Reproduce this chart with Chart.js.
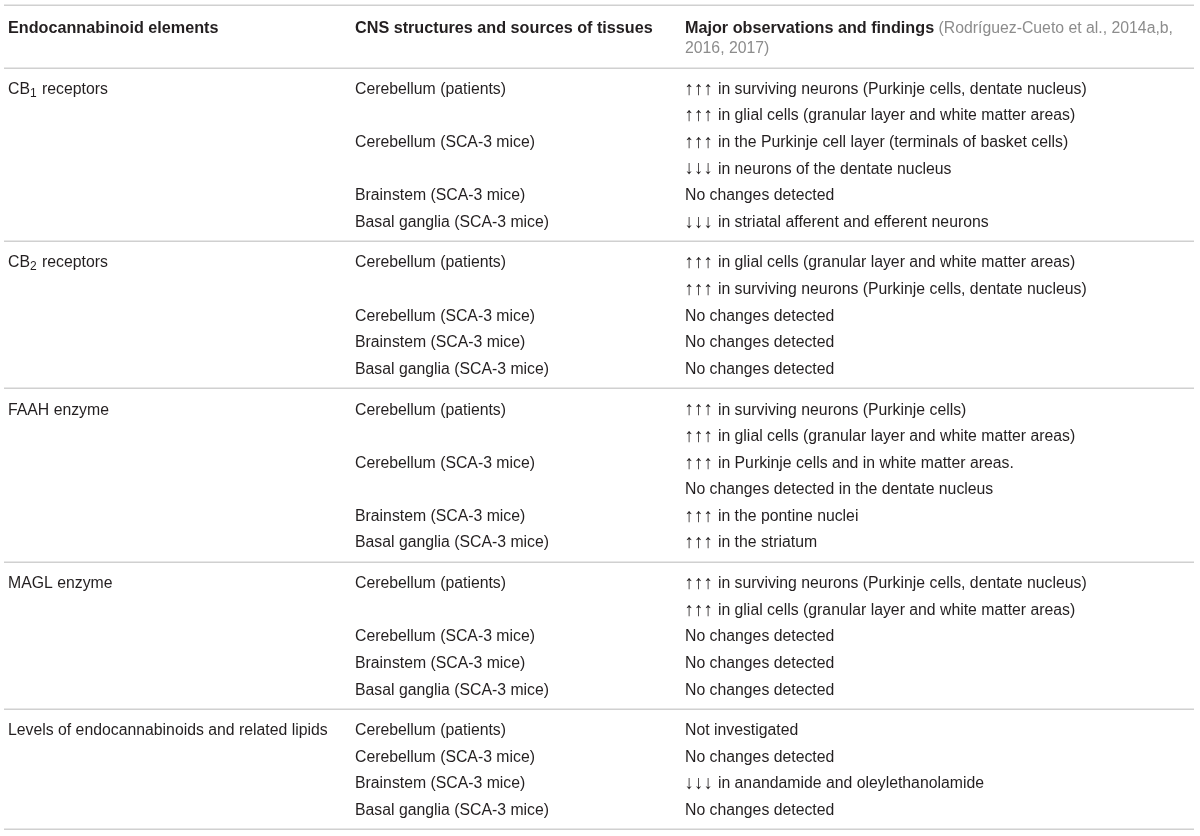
<!DOCTYPE html>
<html>
<head>
<meta charset="utf-8">
<script src="https://cdn.jsdelivr.net/npm/chart.js@4.4.1/dist/chart.umd.min.js"></script>
<style>
  html, body { margin: 0; padding: 0; background: #ffffff; }
  #wrap { width: 1200px; height: 836px; position: relative; }
</style>
</head>
<body>
<div id="wrap"><canvas id="c" aria-label="Table: endocannabinoid elements, CNS structures and major observations" role="img"></canvas></div>
<script>
// ---- DATA ----
const headers = ["Endocannabinoid elements", "CNS structures and sources of tissues", "Major observations and findings"];
const headerCitation = [" (Rodríguez-Cueto et al., 2014a,b,", "2016, 2017)"];

const elements = ["CB_1 receptors", "CB_2 receptors", "FAAH enzyme", "MAGL enzyme", "Levels of endocannabinoids and related lipids"];

const structures1 = ["Cerebellum (patients)", "", "Cerebellum (SCA-3 mice)", "", "Brainstem (SCA-3 mice)", "Basal ganglia (SCA-3 mice)"];
const findings1 = [
  "↑↑↑ in surviving neurons (Purkinje cells, dentate nucleus)",
  "↑↑↑ in glial cells (granular layer and white matter areas)",
  "↑↑↑ in the Purkinje cell layer (terminals of basket cells)",
  "↓↓↓ in neurons of the dentate nucleus",
  "No changes detected",
  "↓↓↓ in striatal afferent and efferent neurons"
];
const structures2 = ["Cerebellum (patients)", "", "Cerebellum (SCA-3 mice)", "Brainstem (SCA-3 mice)", "Basal ganglia (SCA-3 mice)"];
const findings2 = [
  "↑↑↑ in glial cells (granular layer and white matter areas)",
  "↑↑↑ in surviving neurons (Purkinje cells, dentate nucleus)",
  "No changes detected",
  "No changes detected",
  "No changes detected"
];
const structures3 = ["Cerebellum (patients)", "", "Cerebellum (SCA-3 mice)", "", "Brainstem (SCA-3 mice)", "Basal ganglia (SCA-3 mice)"];
const findings3 = [
  "↑↑↑ in surviving neurons (Purkinje cells)",
  "↑↑↑ in glial cells (granular layer and white matter areas)",
  "↑↑↑ in Purkinje cells and in white matter areas.",
  "No changes detected in the dentate nucleus",
  "↑↑↑ in the pontine nuclei",
  "↑↑↑ in the striatum"
];
const structures4 = ["Cerebellum (patients)", "", "Cerebellum (SCA-3 mice)", "Brainstem (SCA-3 mice)", "Basal ganglia (SCA-3 mice)"];
const findings4 = [
  "↑↑↑ in surviving neurons (Purkinje cells, dentate nucleus)",
  "↑↑↑ in glial cells (granular layer and white matter areas)",
  "No changes detected",
  "No changes detected",
  "No changes detected"
];
const structures5 = ["Cerebellum (patients)", "Cerebellum (SCA-3 mice)", "Brainstem (SCA-3 mice)", "Basal ganglia (SCA-3 mice)"];
const findings5 = [
  "Not investigated",
  "No changes detected",
  "↓↓↓ in anandamide and oleylethanolamide",
  "No changes detected"
];

const structureGroups = [structures1, structures2, structures3, structures4, structures5];
const findingGroups = [findings1, findings2, findings3, findings4, findings5];

// ---- LAYOUT (options, not data) ----
const layout = {
  colX: [8, 355, 685],
  ruleX: [4, 1194],
  groupGap: 0.53,
  headerLines: [-2.29, -1.54],
  topRule: -3.12,
  ruleOffset: 0.75,
  textDy: 1.5,
  arrowPitch: 9.5,
  font: "15.8px 'Liberation Sans', Arial, sans-serif",
  arrowFont: "19px 'Liberation Sans', Arial, sans-serif",
  boldFont: "bold 16.2px 'Liberation Sans', Arial, sans-serif",
  subFont: "12px 'Liberation Sans', Arial, sans-serif",
  textColor: "#231f20",
  citeColor: "#8c8c8c",
  ruleColor: "#d0d0d0"
};

const rows = [];
const groupBounds = [];
let k = 0;
structureGroups.forEach((g, gi) => {
  const first = k + gi * layout.groupGap;
  g.forEach((s, i) => {
    rows.push({ slot: k + gi * layout.groupGap, group: gi, idx: i });
    k++;
  });
  groupBounds.push({ first, last: (k - 1) + gi * layout.groupGap });
});

function drawRich(ctx, text, x, y) {
  const m = text.match(/^(.*?)_(\d)(.*)$/);
  if (!m) { ctx.fillText(text, x, y); return; }
  ctx.fillText(m[1], x, y);
  const w = ctx.measureText(m[1]).width;
  const saved = ctx.font;
  ctx.font = layout.subFont;
  ctx.fillText(m[2], x + w, y + 4);
  const w2 = ctx.measureText(m[2]).width;
  ctx.font = saved;
  ctx.fillText(m[3], x + w + w2 + 1, y);
}

function drawFinding(ctx, text, x, y) {
  const m = text.match(/^([↑↓]+)(.*)$/);
  if (!m) { ctx.fillText(text, x, y); return; }
  const arrows = Array.from(m[1]);
  const saved = ctx.font;
  ctx.font = layout.arrowFont;
  arrows.forEach((a, i) => ctx.fillText(a, x + i * layout.arrowPitch - 0.5, y));
  ctx.font = saved;
  ctx.fillText(m[2], x + arrows.length * layout.arrowPitch, y);
}

const tablePlugin = {
  id: 'tableText',
  afterDatasetsDraw(chart) {
    const ctx = chart.ctx;
    const xs = chart.scales.x, ys = chart.scales.y;
    const X = v => xs.getPixelForValue(v);
    const Y = v => ys.getPixelForValue(v) + layout.textDy;
    ctx.save();
    ctx.strokeStyle = layout.ruleColor;
    ctx.lineWidth = 1.5;
    const rules = [layout.topRule, -layout.ruleOffset].concat(groupBounds.map(b => b.last + layout.ruleOffset));
    rules.forEach(r => {
      const y = Math.round(ys.getPixelForValue(r)) + 0.25;
      ctx.beginPath();
      ctx.moveTo(X(layout.ruleX[0]), y);
      ctx.lineTo(X(layout.ruleX[1]), y);
      ctx.stroke();
    });
    ctx.textBaseline = 'middle';
    ctx.textAlign = 'left';
    ctx.font = layout.boldFont;
    ctx.fillStyle = layout.textColor;
    headers.forEach((h, i) => ctx.fillText(h, X(layout.colX[i]), Y(layout.headerLines[0])));
    const hw = ctx.measureText(headers[2]).width;
    ctx.font = layout.font;
    ctx.fillStyle = layout.citeColor;
    ctx.fillText(headerCitation[0], X(layout.colX[2]) + hw, Y(layout.headerLines[0]));
    ctx.fillText(headerCitation[1], X(layout.colX[2]), Y(layout.headerLines[1]));
    ctx.fillStyle = layout.textColor;
    ctx.font = layout.font;
    elements.forEach((e, gi) => drawRich(ctx, e, X(layout.colX[0]), Y(groupBounds[gi].first)));
    rows.forEach(r => {
      const s = structureGroups[r.group][r.idx];
      const f = findingGroups[r.group][r.idx];
      if (s) ctx.fillText(s, X(layout.colX[1]), Y(r.slot));
      if (f) drawFinding(ctx, f, X(layout.colX[2]), Y(r.slot));
    });
    ctx.restore();
  }
};

new Chart(document.getElementById('c'), {
  type: 'scatter',
  data: {
    datasets: [{
      data: rows.map(r => ({ x: layout.colX[2], y: r.slot })),
      pointRadius: 0,
      showLine: false
    }]
  },
  options: {
    responsive: true,
    maintainAspectRatio: false,
    animation: false,
    events: [],
    layout: { padding: 0 },
    plugins: { legend: { display: false }, tooltip: { enabled: false } },
    scales: {
      x: { type: 'linear', display: false, min: 0, max: 1200 },
      y: { type: 'linear', display: false, reverse: true, min: -3.309, max: 28.13 }
    }
  },
  plugins: [tablePlugin]
});
</script>
</body>
</html>
